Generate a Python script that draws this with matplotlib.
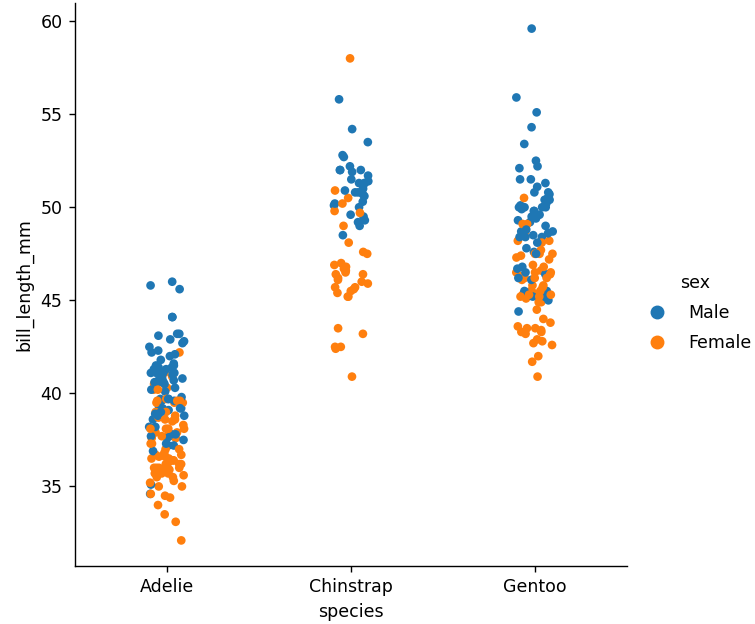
import numpy as np
import pandas as pd
import matplotlib
matplotlib.use("Agg")
import matplotlib.pyplot as plt
import seaborn as sns
from matplotlib.lines import Line2D

# categorías y colores
species_order = ["Adelie", "Chinstrap", "Gentoo"]
sex_order = ["Male", "Female"]
sex_colors = ["#1f77b4", "#ff7f0e"]

# bill_length_mm, por especie y sexo
adelie_male = [39.1, 39.3, 39.2, 38.6, 34.6, 42.5, 46.0,
               37.7, 38.2, 38.8, 40.6, 40.5,
               37.2, 40.9, 39.2, 38.8, 39.8, 40.8, 44.1, 39.6, 41.1, 42.3,
               40.1, 42.0, 41.4, 40.6, 37.6, 41.3, 41.1, 41.6, 41.1,
               41.8, 39.7, 45.8, 42.8, 37.2, 42.1, 42.9, 35.1,
               41.3, 36.9, 38.9, 41.1, 39.6, 40.8, 40.3, 43.2,
               41.0, 37.8, 39.7, 38.2, 43.2, 45.6, 42.2, 42.7,
               37.3, 41.1, 37.7, 41.4, 40.6, 41.5, 44.1,
               43.1, 37.5, 41.1, 40.2, 39.7, 40.6, 40.7, 39.0, 39.2, 37.8, 41.5]
adelie_female = [39.5, 40.3, 36.7, 38.9, 41.1, 36.6, 38.7, 34.4,
                 37.8, 35.9, 35.3, 40.5, 37.9,
                 39.5, 39.5, 36.4, 42.2, 37.6, 36.5, 36.0, 37.0, 36.0,
                 39.6, 35.0, 34.5, 39.0, 36.5, 35.7, 37.6, 36.4, 35.5,
                 35.9, 33.5, 39.6, 35.5, 40.9, 36.2, 34.6, 36.7,
                 37.3, 36.3, 38.3, 35.7, 34.0, 36.2, 38.1, 33.1,
                 35.0, 37.7, 37.9, 38.6, 38.1, 38.1, 39.7, 39.6,
                 38.6, 35.7, 36.2, 40.2, 35.2, 38.8, 39.0,
                 38.5, 36.8, 38.1, 35.6, 37.0, 40.2, 32.1, 37.3, 36.6, 36.0, 36.0]

chinstrap_male = [50.0, 51.3, 52.7, 51.3, 51.3, 51.7, 52.0, 50.3, 49.2, 48.5,
                  50.6, 52.0, 49.5, 52.8, 54.2, 51.0, 52.0, 53.5, 50.9, 50.8,
                  50.1, 49.0, 51.5, 51.4, 50.7, 52.2, 49.3, 50.2, 51.9, 55.8,
                  49.6, 50.8]
chinstrap_female = [46.5, 45.4, 45.2, 46.1, 46.0, 46.6, 47.0, 45.9, 58.0, 46.4,
                    42.4, 43.2, 46.7, 50.5, 46.4, 40.9, 42.5, 49.7, 47.5, 47.6,
                    46.9, 49.0, 46.2, 45.5, 50.9, 49.8, 48.1, 45.7, 42.5, 45.2,
                    45.6, 46.8, 45.7, 43.5, 50.2]

gentoo_male = [50.0, 50.0, 47.6, 46.7, 46.8, 49.0, 48.4, 49.3, 49.2, 48.7,
               50.2, 46.1, 47.8, 50.0, 45.1, 59.6, 48.4, 44.4, 48.7, 49.6,
               49.6, 50.5, 45.5, 50.5, 45.2, 48.5, 50.1, 45.0, 45.5, 50.4,
               46.2, 54.3, 49.8, 49.5, 50.7, 46.4, 46.5, 48.6, 51.1, 45.2,
               52.5, 50.0, 50.8, 51.3, 52.1, 52.2, 49.5, 50.8, 49.4, 48.4,
               51.5, 55.9, 53.4, 48.1, 49.8, 51.5, 55.1, 48.8, 50.4, 49.9,
               47.5]
gentoo_female = [46.1, 48.7, 46.5, 45.4, 43.3, 40.9, 45.5, 45.8, 42.0, 46.2,
                 45.1, 46.5, 46.3, 42.9, 48.2, 47.3, 42.8, 49.1, 42.6, 44.0,
                 42.7, 45.3, 43.6, 44.9, 46.6, 45.1, 46.5, 43.8, 43.2, 45.3,
                 45.7, 45.8, 46.2, 43.5, 47.7, 48.2, 46.4, 47.5, 45.2, 49.1,
                 47.4, 44.9, 43.4, 47.5, 47.5, 45.5, 44.5, 46.9, 48.1, 41.7,
                 43.3, 50.5, 43.5, 46.2, 47.2, 46.8, 45.2, 45.3]

# tabla larga, alternando machos y hembras como en el orden original
rows = []
groups = [("Adelie", adelie_male, adelie_female),
          ("Chinstrap", chinstrap_male, chinstrap_female),
          ("Gentoo", gentoo_male, gentoo_female)]
for sp, males, females in groups:
    for i in range(max(len(males), len(females))):
        if i < len(males):
            rows.append((sp, males[i], "Male"))
        if i < len(females):
            rows.append((sp, females[i], "Female"))
df = pd.DataFrame(rows, columns=["species", "bill_length_mm", "sex"])

np.random.seed(3)  # jitter reproducible

fig = plt.figure(figsize=(6.04, 4.992), dpi=125)
ax = fig.add_axes([74.7 / 755, 58 / 624, 552 / 755, 563 / 624])

sns.stripplot(data=df, x="species", y="bill_length_mm", hue="sex",
              order=species_order, hue_order=sex_order,
              palette=sex_colors, jitter=True, legend=False, ax=ax)
sns.despine(ax=ax)

# leyenda fuera, a la derecha
handles = [Line2D([], [], marker="o", linestyle="", color=c, markersize=7)
           for c in sex_colors]
fig.legend(handles, sex_order, title="sex", loc="center left",
           bbox_to_anchor=(624 / 755, 0.498), frameon=False,
           labelspacing=0.68)

fig.savefig("out.png", dpi=125)
